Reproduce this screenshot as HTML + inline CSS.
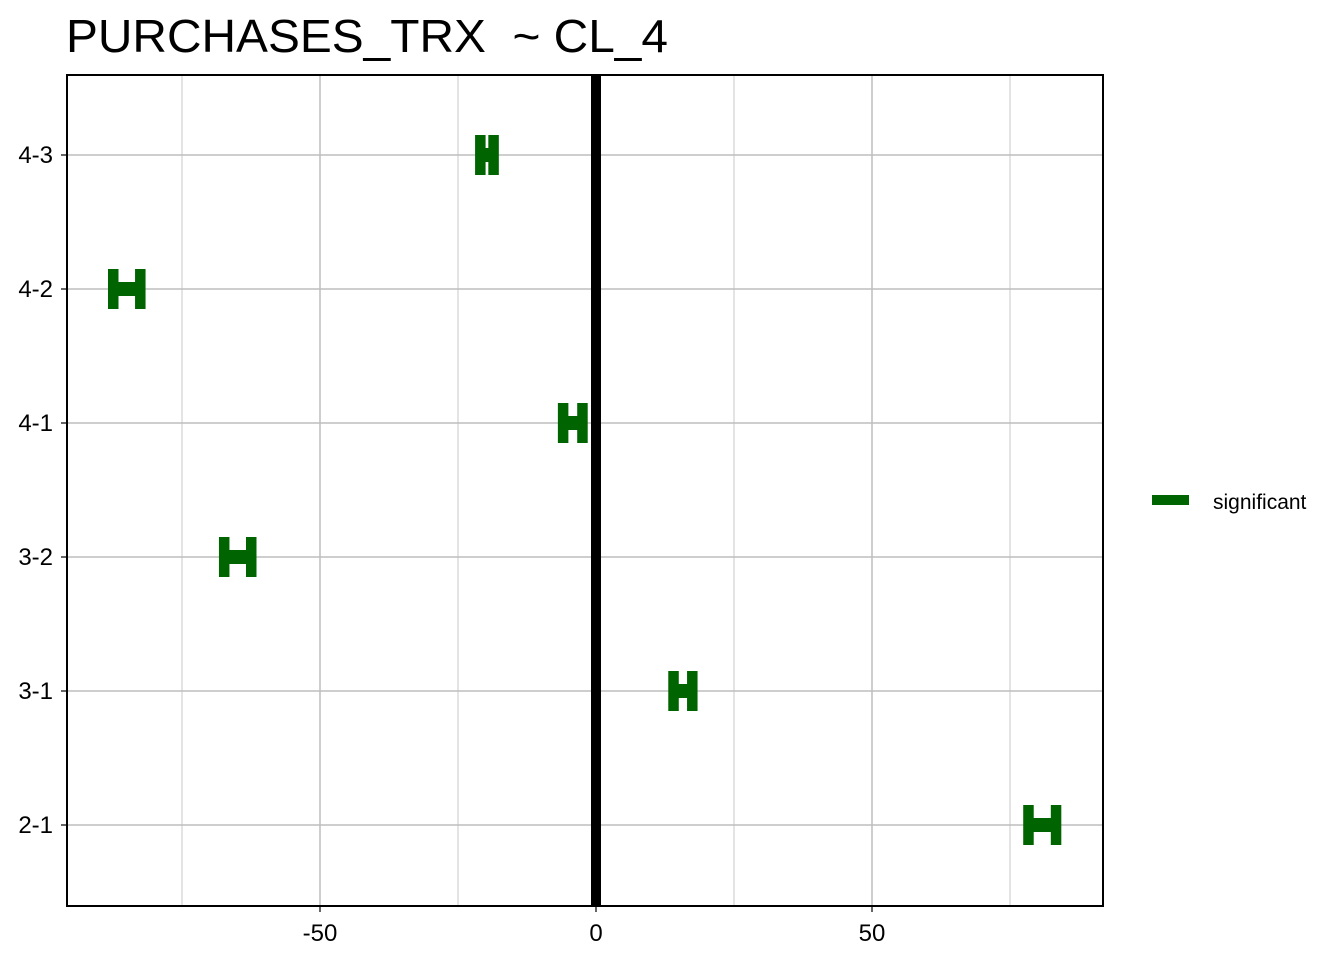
<!DOCTYPE html>
<html><head><meta charset="utf-8"><style>
body{margin:0;background:#fff;font-family:"Liberation Sans",sans-serif}
</style></head><body>
<svg id="c" width="1344" height="960" xmlns="http://www.w3.org/2000/svg">
<text x="66" y="52" font-size="46" textLength="602" lengthAdjust="spacingAndGlyphs" font-family="Liberation Sans">PURCHASES_TRX&#160; ~ CL_4</text>
<g id="grid"></g><g id="marks"></g><g id="axes"></g>
<rect x="1152" y="495" width="37" height="10" fill="#006400"/>
<text x="1213" y="509" font-size="21">significant</text>
</svg>
<script>
const categories=["2-1","3-1","3-2","4-1","4-2","4-3"];
const lower=[78.3,14.0,-67.4,-6.0,-87.5,-21.0];
const upper=[83.3,17.4,-62.5,-2.5,-82.6,-18.6];
const xTicks=[-50,0,50];
const xMinor=[-75,-25,25,75];
const L=67,R=1103,T=75,B=906;
const sx=v=>596+v*5.52;
const sy=i=>825-i*134;
const NS="http://www.w3.org/2000/svg";
function mk(p,tag,a){const e=document.createElementNS(NS,tag);for(const k in a)e.setAttribute(k,a[k]);p.appendChild(e);return e;}
const g=document.getElementById('grid'),m=document.getElementById('marks'),ax=document.getElementById('axes');
xMinor.forEach(v=>{const e=mk(g,'line',{x1:sx(v),x2:sx(v),y1:T,y2:B,stroke:'#c8c8c8','stroke-width':1});

});
xTicks.forEach(v=>{const e=mk(g,'line',{x1:sx(v),x2:sx(v),y1:T,y2:B,stroke:'#bdbdbd','stroke-width':1.5});


const t=mk(ax,'text',{x:sx(v),y:941,'font-size':24,'text-anchor':'middle'});t.textContent=v;


mk(ax,'line',{x1:sx(v),x2:sx(v),y1:B,y2:B+6,stroke:'#333','stroke-width':1.5});});
categories.forEach((c,i)=>{const y=sy(i);
const e=mk(g,'line',{x1:L,x2:R,y1:y,y2:y,stroke:'#bdbdbd','stroke-width':1.5});


const t=mk(ax,'text',{x:53,y:y+8,'font-size':24,'text-anchor':'end'});t.textContent=c;


mk(ax,'line',{x1:L-6,x2:L,y1:y,y2:y,stroke:'#333','stroke-width':1.5});
const a=sx(lower[i]),b=sx(upper[i]);
const grp=mk(m,'g',{fill:'#006400'});


mk(grp,'rect',{x:a-5,y:y-20,width:10.5,height:40});
mk(grp,'rect',{x:b-5,y:y-20,width:10.5,height:40});
mk(grp,'rect',{x:a,y:y-7,width:b-a,height:14});});
const z=mk(ax,'line',{x1:sx(0),x2:sx(0),y1:T,y2:B,stroke:'#000','stroke-width':10});


const f=mk(ax,'rect',{x:L,y:T,width:R-L,height:B-T,fill:'none',stroke:'#000','stroke-width':2});


</script>
</body></html>
